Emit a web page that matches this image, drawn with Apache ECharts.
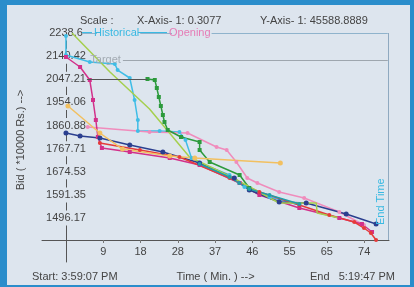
<!DOCTYPE html>
<html>
<head>
<meta charset="utf-8">
<script src="https://cdn.jsdelivr.net/npm/echarts@6/dist/echarts.min.js"></script>
<style>
html, body { margin: 0; padding: 0; background: #2a8dcb; }
#chart {
    width: 414px;
    height: 287px;
    background: #dde5ee;
    box-shadow: inset 7px 5px 0 #2a8dcb, inset -4px -2px 0 #2a8dcb;
}
</style>
</head>
<body>
<div id="chart"></div>
<script>
// axis ticks: time in minutes, bid in Rs (x 10000)
const xTickValues = [9.2308, 18.4615, 27.6923, 36.9231, 46.1538, 55.3846, 64.6154, 73.8462];
const xTickLabels = ['9', '18', '28', '37', '46', '55', '65', '74'];
const yTickValues = [1488.17, 1581.35, 1674.53, 1767.71, 1860.88, 1954.06, 2047.24, 2140.42, 2233.6];
const yTickLabels = ['1496.17', '1591.35', '1674.53', '1767.71', '1860.88', '1954.06', '2047.21', '2140.42', '2238.6'];

// reference levels
const topLevel = 2233.6;
const targetLevel = 2124.8;
const reserveLevel = 2048.3;
const endTime = 79.7;

// bids [minute, value]
const historical = [[0, 2221.5], [0, 2145.0], [5.9, 2116.8], [12.1, 2108.7], [12.8, 2084.5], [15.8, 2052.3], [17.0, 1963.7], [17.8, 1883.1], [17.8, 1838.8], [23.2, 1838.8], [28.1, 1834.7], [29.6, 1802.5], [31.1, 1730.0], [33.1, 1709.8], [40.5, 1661.5], [44.2, 1613.1], [50.4, 1572.9], [57.8, 1540.6]];
const opening = [[5.4, 1854.9], [20.7, 1834.7], [30.1, 1830.7], [37.3, 1774.3], [39.8, 1762.2], [42.2, 1713.9], [44.9, 1649.4], [47.4, 1629.2], [52.8, 1593.0], [59.0, 1568.8], [67.7, 1512.4], [73.8, 1460.0]];
const bidderA = [[0, 2136.9], [3.5, 2096.6], [5.9, 2044.2], [6.7, 1963.7], [7.4, 1883.1], [7.9, 1814.6], [8.9, 1770.3], [15.8, 1754.2], [25.7, 1730.0], [33.1, 1701.8], [43.0, 1629.2], [47.9, 1580.9], [57.8, 1528.5], [67.7, 1488.2], [73.3, 1464.1], [75.8, 1431.9]];
const bidderB = [[0, 1830.7], [3.5, 1818.6], [8.4, 1810.5], [15.8, 1782.4], [24.0, 1754.2], [33.1, 1709.8], [41.7, 1649.4], [45.4, 1601.1], [52.8, 1552.7], [59.5, 1548.7], [69.4, 1504.4], [76.8, 1464.1]];
const bidderC = [[8.4, 1790.4], [18.3, 1762.2], [28.1, 1734.0], [40.5, 1649.4], [47.9, 1593.0], [57.8, 1540.6], [65.2, 1500.3], [71.4, 1472.1], [73.8, 1448.0], [75.5, 1427.8], [76.8, 1399.6]];
const bidderD = [[20.2, 2048.3], [22.0, 2044.2], [22.5, 2012.0], [23.0, 1975.8], [23.5, 1939.5], [24.0, 1903.2], [24.4, 1875.0], [25.2, 1842.8], [28.5, 1814.6], [33.1, 1794.4], [33.1, 1762.2], [35.6, 1713.9], [43.0, 1661.5], [45.4, 1609.1]];
const bidderE = [[1.5, 2233.6], [10.9, 2076.5], [20.7, 1927.4], [30.6, 1734.0], [40.5, 1657.5], [52.8, 1548.7], [62.0, 1548.7], [62.2, 1508.4], [67.7, 1488.2]];
const bidderF = [[0.5, 1939.5], [8.4, 1830.7], [14.0, 1766.0], [25.7, 1738.0], [31.9, 1730.0], [53.1, 1709.8]];
const bidderG = [[33.1, 1705.8], [40.5, 1653.5], [42.9, 1629.2], [45.4, 1605.1], [50.4, 1580.9], [57.8, 1544.6]];

const BG = '#dde5ee';
const FONT = 'Liberation Sans';

const chart = echarts.init(document.getElementById('chart'), null, { renderer: 'canvas' });

function nearestLabel(values, labels, v) {
    let best = 0;
    values.forEach((x, i) => {
        if (Math.abs(x - v) < Math.abs(values[best] - v)) best = i;
    });
    return labels[best];
}

function bidLine(name, data, color, symbol, size, extra) {
    return Object.assign({
        name: name,
        type: 'line',
        data: data,
        symbol: symbol,
        symbolSize: size,
        showSymbol: symbol !== 'none',
        lineStyle: { color: color, width: 1.5 },
        itemStyle: { color: color },
        z: 3
    }, extra || {});
}

const txt = { fontSize: 11, fontWeight: 'normal', color: '#444', fontFamily: FONT };
const legendBase = {
    top: 27,
    padding: 0,
    z: 10,
    icon: 'rect',
    itemHeight: 1,
    textStyle: { fontSize: 11, fontFamily: FONT, padding: [0, 1, 0, -3], backgroundColor: BG }
};

const option = {
    animation: false,
    backgroundColor: 'transparent',
    textStyle: { fontFamily: FONT },
    title: [
        { text: 'Scale :', left: 80, top: 15, padding: 0, textStyle: txt },
        { text: 'X-Axis- 1: 0.3077', left: 137, top: 15, padding: 0, textStyle: txt },
        { text: 'Y-Axis- 1: 45588.8889', left: 260, top: 15, padding: 0, textStyle: txt },
        { text: 'Start: 3:59:07 PM', left: 32, top: 271, padding: 0, textStyle: txt },
        { text: 'End   5:19:47 PM', left: 310, top: 271, padding: 0, textStyle: txt }
    ],
    legend: [
        Object.assign({}, legendBase, {
            left: 82,
            itemWidth: 10,
            data: [{ name: 'Historical', textStyle: { color: '#3ab9e2' } }]
        }),
        Object.assign({}, legendBase, {
            left: 138,
            itemWidth: 29,
            data: [{ name: 'Opening', textStyle: { color: '#e67cb6' }, itemStyle: { color: '#3ab9e2' } }]
        })
    ],
    grid: {
        left: 42,
        right: 25,
        top: 33,
        bottom: 25,
        outerBoundsMode: 'none'
    },
    xAxis: {
        type: 'value',
        min: -5.93,
        max: 80,
        offset: -22,
        axisLine: { onZero: false, lineStyle: { color: '#555', width: 1 } },
        axisTick: { customValues: xTickValues, length: 3, lineStyle: { color: '#777' } },
        axisLabel: {
            customValues: xTickValues,
            formatter: v => nearestLabel(xTickValues, xTickLabels, v),
            margin: 6,
            fontSize: 11,
            color: '#444'
        },
        splitLine: { show: false },
        name: 'Time ( Min. ) -->',
        nameLocation: 'middle',
        nameGap: 31,
        nameTextStyle: { fontSize: 11, color: '#444' }
    },
    yAxis: {
        type: 'value',
        min: 1311,
        max: topLevel,
        axisLine: { onZero: true, lineStyle: { color: '#555', width: 1 } },
        axisTick: { show: false },
        splitLine: { show: false },
        axisLabel: {
            customValues: yTickValues,
            formatter: v => nearestLabel(yTickValues, yTickLabels, v),
            align: 'center',
            margin: -24,
            fontSize: 11,
            color: '#444',
            backgroundColor: BG,
            padding: [2, 1]
        },
        name: 'Bid ( *10000 Rs.) -->',
        nameLocation: 'middle',
        nameGap: 16,
        nameMoveOverlap: false,
        nameTextStyle: { fontSize: 11, color: '#444', padding: [0, 0, 0, 15] }
    },
    series: [
        bidLine('Historical', historical, '#3fbde6', 'circle', 4, {
            markLine: {
                silent: true,
                symbol: 'none',
                data: [
                    [
                        { coord: [4.0, topLevel], lineStyle: { color: '#8fb3cc', width: 1, type: 'solid' }, label: { show: false } },
                        { coord: [endTime, topLevel] }
                    ],
                    [
                        { coord: [14.1, targetLevel], lineStyle: { color: '#9ea6ae', width: 1, type: 'solid' }, label: { show: true, position: 'start', formatter: 'Target', color: '#a3abb3', fontSize: 11, distance: 2 } },
                        { coord: [endTime, targetLevel] }
                    ],
                    [
                        { coord: [endTime, 1399.6], lineStyle: { color: '#8fa9c0', width: 1, type: 'solid' }, label: { show: true, position: 'insideStartTop', formatter: 'End Time', color: '#3ab9e2', fontSize: 11, distance: 1, padding: [0, 0, 0, 14] } },
                        { coord: [endTime, topLevel] }
                    ]
                ]
            }
        }),
        bidLine('Opening', opening, '#f08cbc', 'circle', 4),
        bidLine('Bidder A', bidderA, '#d2308a', 'rect', 4),
        bidLine('Bidder B', bidderB, '#2b3f8f', 'circle', 5),
        bidLine('Bidder C', bidderC, '#e53a3a', 'circle', 4),
        bidLine('Bidder D', bidderD, '#2c9a3c', 'rect', 4, {
            markLine: {
                silent: true,
                symbol: 'none',
                data: [
                    [
                        { coord: [5.2, reserveLevel], lineStyle: { color: '#555', width: 1, type: 'solid' }, label: { show: false } },
                        { coord: [20.2, reserveLevel] }
                    ]
                ]
            }
        }),
        bidLine('Bidder E', bidderE, '#a5cf4e', 'none', 4),
        bidLine('Bidder F', bidderF, '#f2c060', 'circle', 5),
        bidLine('Bidder G', bidderG, '#1f9fa8', 'circle', 4)
    ]
};

chart.setOption(option);
</script>
</body>
</html>
